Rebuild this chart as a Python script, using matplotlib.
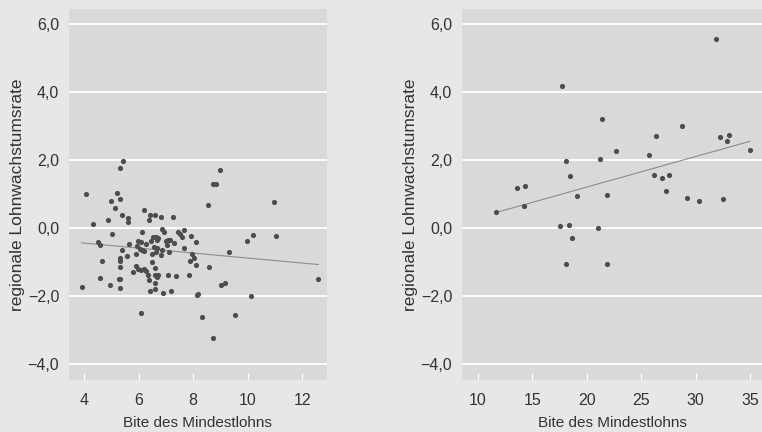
import matplotlib
matplotlib.use("Agg")
import matplotlib.pyplot as plt
from matplotlib.ticker import FuncFormatter
import numpy as np

# left panel: bite vs. regional wage growth
left_x = [5.43, 5.31, 9.00, 8.73, 8.82, 4.07, 5.21, 5.31, 4.98, 5.14, 8.56, 10.95,
          6.19, 5.39, 6.41, 6.58, 6.38, 6.81, 7.25, 5.60, 5.60, 4.87, 4.33,
          5.03, 6.12, 6.86, 6.91, 7.44, 7.53, 7.58, 7.66, 7.92, 8.10, 9.99, 10.19,
          11.06, 9.33, 12.59, 8.57, 8.04, 7.97, 7.88, 8.12, 7.86, 7.36, 7.09, 9.01,
          9.18, 8.13, 8.19, 10.12, 6.10, 8.31, 9.53, 8.73,
          3.90, 4.59, 4.94, 5.31, 5.26, 5.33, 4.66, 4.51, 4.59, 5.33, 5.32, 5.33,
          5.38, 5.56, 5.66, 5.89, 5.92, 5.97, 6.07, 6.11, 6.19, 6.27, 6.44, 6.53,
          6.62, 6.70, 6.66, 6.55, 6.66, 6.84, 6.82, 6.48, 6.63, 6.99, 7.10, 7.04,
          7.11, 7.31, 7.66, 6.47, 5.80, 5.89, 5.99, 6.09, 6.19, 6.26, 6.33, 6.60,
          6.59, 6.67, 6.72, 6.36, 6.60, 6.60, 6.42, 6.89, 7.19, 7.08, 7.13, 6.04]
left_y = [1.98, 1.76, 1.72, 1.30, 1.30, 1.00, 1.03, 0.87, 0.81, 0.59, 0.69, 0.77,
          0.54, 0.40, 0.38, 0.38, 0.24, 0.33, 0.34, 0.29, 0.18, 0.25, 0.13,
          -0.17, -0.10, -0.04, -0.12, -0.12, -0.16, -0.26, -0.05, -0.22, -0.41, -0.37, -0.21,
          -0.24, -0.71, -1.49, -1.15, -0.89, -0.75, -0.96, -1.09, -1.37, -1.41, -1.39, -1.66,
          -1.60, -1.98, -1.93, -2.01, -2.49, -2.60, -2.55, -3.24,
          -1.73, -1.46, -1.68, -1.76, -1.49, -1.49, -0.96, -0.40, -0.50, -1.14, -0.89, -0.98,
          -0.63, -0.81, -0.46, -0.75, -0.53, -0.38, -0.42, -0.64, -0.66, -0.48, -0.39, -0.26,
          -0.26, -0.30, -0.36, -0.55, -0.58, -0.65, -0.80, -0.75, -0.70, -0.39, -0.35, -0.51,
          -0.71, -0.45, -0.58, -0.99, -1.29, -1.10, -1.21, -1.23, -1.20, -1.26, -1.37, -1.17,
          -1.37, -1.44, -1.38, -1.53, -1.62, -1.79, -1.85, -1.90, -1.86, -0.35, -0.36, -0.62]
left_fit = (-0.147, -0.0733)   # intercept, slope

# right panel
right_x = [31.9, 17.76, 21.4, 28.8, 26.4, 32.2, 32.9, 33.05, 35.0, 22.66, 25.74,
           21.2, 18.1, 18.44, 26.2, 26.88, 27.58, 13.6, 14.37, 27.3, 19.1, 21.83,
           29.2, 32.5, 30.35, 11.7, 14.25, 17.55, 18.35, 18.65, 21.0, 18.1, 21.9]
right_y = [5.57, 4.17, 3.22, 3.01, 2.72, 2.67, 2.56, 2.75, 2.30, 2.26, 2.14,
           2.04, 1.96, 1.54, 1.57, 1.46, 1.55, 1.18, 1.24, 1.08, 0.94, 0.98,
           0.88, 0.87, 0.81, 0.46, 0.65, 0.06, 0.09, -0.30, 0.0, -1.06, -1.06]
right_fit = (-0.593, 0.0899)

y_ticks = [-4, -2, 0, 2, 4, 6]
left_xticks = [4, 6, 8, 10, 12]
right_xticks = [10, 15, 20, 25, 30, 35]

plt.rcParams["font.family"] = ["Liberation Sans", "DejaVu Sans"]

fig = plt.figure(figsize=(7.62, 4.32), dpi=100)
fig.patch.set_facecolor("#e7e7e9")

def fmt(v, pos):
    s = "%.1f" % v
    return s.replace("-", "\u2212").replace(".", ",")

def panel(rect, xs, ys, fit, xticks, xlim):
    ax = fig.add_axes(rect)
    ax.set_facecolor("#d9d9db")
    for s in ax.spines.values():
        s.set_visible(False)
    ax.set_ylim(-4.47, 6.44)
    ax.set_xlim(*xlim)
    ax.set_yticks(y_ticks)
    ax.set_xticks(xticks)
    ax.yaxis.set_major_formatter(FuncFormatter(fmt))
    ax.grid(axis="y", color="white", linewidth=1.3)
    ax.set_axisbelow(True)
    ax.tick_params(axis="y", length=0, pad=7, labelsize=11.5, labelcolor="#333333")
    ax.tick_params(axis="x", direction="in", length=5, width=0.8, color="white",
                   pad=9, labelsize=11.5, labelcolor="#333333")
    x0, x1 = min(xs), max(xs)
    lx = np.array([x0, x1])
    ax.plot(lx, fit[0] + fit[1] * lx, color="#8c8c8c", linewidth=0.8, zorder=2)
    ax.scatter(xs, ys, s=14, color="#4d4d4f", linewidths=0, zorder=3)
    ax.set_xlabel("Bite des Mindestlohns", fontsize=11, color="#333333", labelpad=6)
    ax.set_ylabel("regionale Lohnwachstumsrate", fontsize=12.5, color="#333333", labelpad=2)
    return ax

panel([0.0906, 0.120, 0.338, 0.859], left_x, left_y, left_fit, left_xticks, (3.44, 12.9))
panel([0.6063, 0.120, 0.3937, 0.859], right_x, right_y, right_fit, right_xticks, (8.56, 36.1))

fig.savefig("out.png", dpi=100, facecolor=fig.get_facecolor())
